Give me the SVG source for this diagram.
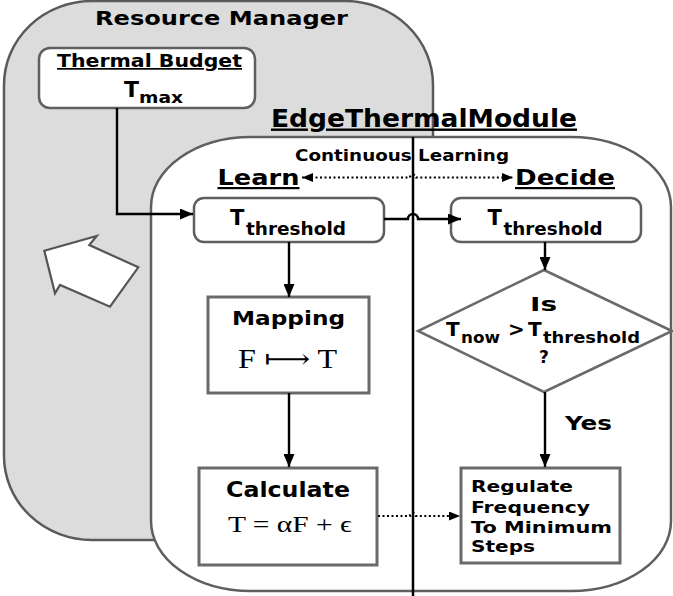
<svg xmlns="http://www.w3.org/2000/svg" width="673" height="596" viewBox="0 0 673 596">
<style>
.b{font-family:"DejaVu Sans","Liberation Sans",sans-serif;font-weight:bold;fill:#000}
.s{font-family:"Liberation Serif","DejaVu Serif",serif;fill:#000}
.u{text-decoration:underline}
.box{fill:#fff;stroke:#5f5f5f;stroke-width:2.5}
.sq{fill:#fff;stroke:#6a6a6a;stroke-width:3}
.ln{fill:none;stroke:#000;stroke-width:2.4}
.dt{fill:none;stroke:#000;stroke-width:2.2;stroke-dasharray:2 2.5}
</style>
<defs>
<marker id="ah" viewBox="0 0 13 11" refX="13" refY="5.5" markerWidth="13" markerHeight="11" markerUnits="userSpaceOnUse" orient="auto-start-reverse"><path d="M0,0 L13,5.5 L0,11 z" fill="#000"/></marker>
<marker id="ahs" viewBox="0 0 11 9" refX="11" refY="4.5" markerWidth="11" markerHeight="9" markerUnits="userSpaceOnUse" orient="auto-start-reverse"><path d="M0,0 L11,4.5 L0,9 z" fill="#000"/></marker>
</defs>

<g id="resource-manager">
<rect x="4" y="1" width="429" height="539" rx="88" ry="84" fill="#dcdcdc" stroke="#5a5a5a" stroke-width="2.5"/>
<text class="b" x="95" y="25" font-size="19" textLength="253" lengthAdjust="spacingAndGlyphs">Resource Manager</text>
<polygon points="44.3,250.7 96.7,236 89.3,245 138.3,267.3 110,306.7 60,285 55,293.3" fill="#fff" stroke="#555" stroke-width="2.2"/>
</g>

<g id="thermal-budget">
<rect class="box" x="39" y="48" width="216" height="60" rx="11"/>
<text class="b u" x="57" y="67" font-size="17" textLength="185" lengthAdjust="spacingAndGlyphs">Thermal Budget</text>
<text class="b" x="124" y="97" font-size="22">T</text>
<text class="b" x="139" y="103" font-size="16" textLength="44" lengthAdjust="spacingAndGlyphs">max</text>
</g>

<g id="edge-thermal-module">
<rect x="151" y="137" width="520" height="454" rx="100" ry="70" fill="#fff" stroke="#5f5f5f" stroke-width="2.5"/>
<text class="b u" x="271" y="126.5" font-size="24" textLength="306" lengthAdjust="spacingAndGlyphs">EdgeThermalModule</text>
<line x1="413" y1="137" x2="413" y2="596" stroke="#000" stroke-width="2.5"/>
<text class="b" x="295" y="160.5" font-size="16.5" textLength="214" lengthAdjust="spacingAndGlyphs">Continuous Learning</text>
<text class="b u" x="217.5" y="185" font-size="22" textLength="82" lengthAdjust="spacingAndGlyphs">Learn</text>
<text class="b u" x="515" y="185" font-size="22" textLength="100" lengthAdjust="spacingAndGlyphs">Decide</text>
</g>

<g id="learn-threshold">
<rect class="box" x="194" y="198" width="190" height="44" rx="10"/>
<text class="b" x="230" y="225" font-size="21">T</text>
<text class="b" x="246" y="235" font-size="17.5" textLength="100" lengthAdjust="spacingAndGlyphs">threshold</text>
</g>

<g id="decide-threshold">
<rect class="box" x="451" y="198" width="190" height="44" rx="10"/>
<text class="b" x="487.6" y="225" font-size="21">T</text>
<text class="b" x="503.6" y="235" font-size="17.5" textLength="99" lengthAdjust="spacingAndGlyphs">threshold</text>
</g>

<g id="mapping">
<rect class="sq" x="208" y="297" width="161" height="96"/>
<text class="b" x="232" y="325" font-size="20" textLength="113" lengthAdjust="spacingAndGlyphs">Mapping</text>
<text class="s" x="238" y="368" font-size="27" textLength="99" lengthAdjust="spacingAndGlyphs">F ⟼ T</text>
</g>

<g id="calculate">
<rect class="sq" x="199" y="468" width="178" height="97"/>
<text class="b" x="226" y="497" font-size="20.5" textLength="124" lengthAdjust="spacingAndGlyphs">Calculate</text>
<text class="s" x="228" y="532" font-size="23" textLength="124" lengthAdjust="spacingAndGlyphs">T = αF + ϵ</text>
</g>

<g id="decision">
<polygon points="544,270 672,331 544,392 418,331" fill="#fff" stroke="#6a6a6a" stroke-width="2.5"/>
<text class="b" x="530" y="311" font-size="20" textLength="27" lengthAdjust="spacingAndGlyphs">Is</text>
<text class="b" x="446" y="336" font-size="20">T</text>
<text class="b" x="461" y="343" font-size="16" textLength="39" lengthAdjust="spacingAndGlyphs">now</text>
<text class="b" x="508" y="336" font-size="20">&gt;</text>
<text class="b" x="528" y="336" font-size="20">T</text>
<text class="b" x="543" y="343" font-size="16" textLength="97" lengthAdjust="spacingAndGlyphs">threshold</text>
<text class="b" x="539" y="363" font-size="17">?</text>
</g>

<g id="regulate">
<rect class="sq" x="461" y="468" width="159" height="95"/>
<text class="b" x="471" y="492" font-size="16.5" textLength="102" lengthAdjust="spacingAndGlyphs">Regulate</text>
<text class="b" x="471" y="513" font-size="16.5" textLength="119" lengthAdjust="spacingAndGlyphs">Frequency</text>
<text class="b" x="471" y="533" font-size="16.5" textLength="141" lengthAdjust="spacingAndGlyphs">To Minimum</text>
<text class="b" x="471" y="552" font-size="16.5" textLength="64" lengthAdjust="spacingAndGlyphs">Steps</text>
</g>

<g id="connectors">
<path class="ln" d="M117,108 V214 H193" marker-end="url(#ah)"/>
<path class="ln" d="M384,219 H408 a5,5 0 0 1 10,0 H461" marker-end="url(#ah)"/>
<path class="ln" d="M289,242 V297" marker-end="url(#ah)"/>
<path class="ln" d="M289,393 V467" marker-end="url(#ah)"/>
<path class="ln" d="M545,242 V270" marker-end="url(#ah)"/>
<path class="ln" d="M545,392 V467" marker-end="url(#ah)"/>
<text class="b" x="565" y="430" font-size="19" textLength="47" lengthAdjust="spacingAndGlyphs">Yes</text>
<path class="dt" d="M302,177.5 H410 a3,3 0 0 1 6,0 H513" marker-start="url(#ahs)" marker-end="url(#ahs)"/>
<path class="dt" d="M378,516 H410 a3,3 0 0 1 6,0 H460" marker-end="url(#ahs)"/>
</g>
</svg>
